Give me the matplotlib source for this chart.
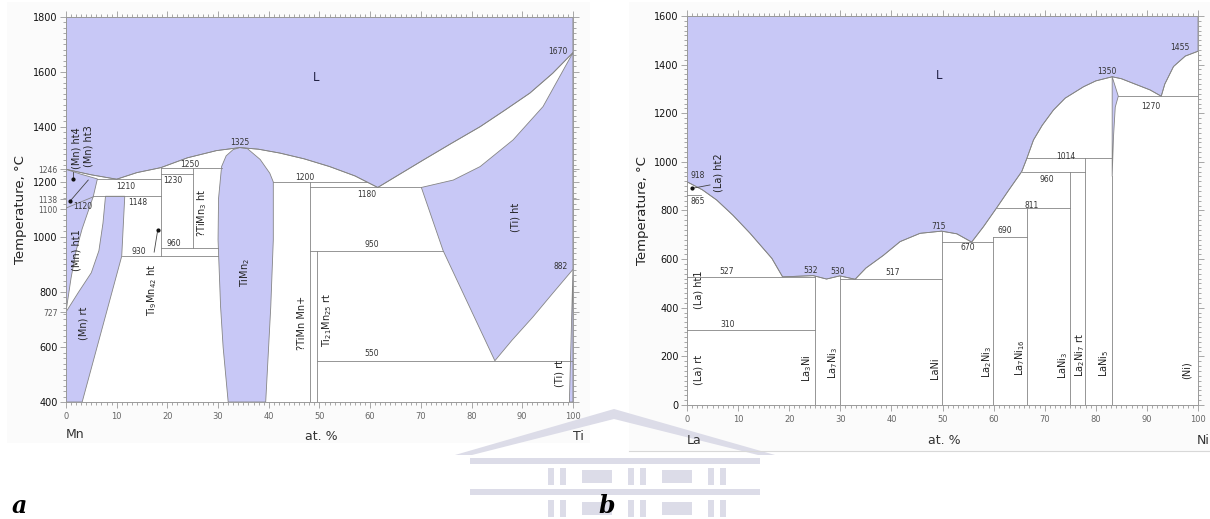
import numpy as np
import matplotlib.pyplot as plt
from matplotlib.patches import Rectangle, Polygon

plt.rcParams['font.family'] = ['DejaVu Sans']
plt.rcParams['mathtext.default'] = 'regular'

FILL = '#c8c8f6'
EDGE = '#858585'
WM = '#dcdce8'

# ---------------- Ti-Mn (x = at.% Ti) ----------------
timn_liq_x = [0, 5, 10, 14, 18.7, 24, 29.7, 34.3, 38, 42.2, 47, 52, 57, 61.5,
              66, 70.5, 76, 81.7, 86.5, 91.5, 96, 100]
timn_liq_t = [1246, 1226, 1210, 1234, 1252, 1288, 1314, 1325, 1319, 1305, 1284,
              1256, 1222, 1180, 1230, 1280, 1340, 1401, 1460, 1523, 1595, 1670]

mn_hi_x = [0, 3, 6.2, 5.4, 3.2, 2.0, 1.0, 0]
mn_hi_t = [1246, 1228, 1211, 1148, 1030, 950, 850, 727]

mn_rt_x = [0, 0, 2.5, 5.0, 6.5, 7.3, 7.8, 11.6, 11.0, 3.2]
mn_rt_t = [400, 727, 800, 870, 950, 1050, 1148, 1148, 930, 400]

timn2_x = [32.0, 31.0, 30.5, 30.0, 30.1, 30.7, 31.6, 33.0, 34.3, 35.8, 38.3,
           40.2, 40.9, 40.9, 40.4, 39.4]
timn2_t = [400, 600, 747, 990, 1140, 1256, 1295, 1318, 1325, 1321, 1282,
           1232, 1200, 990, 747, 400]

ti_ht_x = [70.1, 76.4, 81.7, 88.2, 94.1, 100, 100, 96, 92.1, 88, 84.6, 74.4]
ti_ht_t = [1180, 1207, 1256, 1353, 1474, 1670, 882, 795, 709, 625, 550, 950]

ti_rt_x = [100, 99.3, 100]
ti_rt_t = [882, 400, 400]

timn_iso_t = [1250, 1230, 1210, 1148, 960, 930, 1200, 1180, 950, 550]
timn_iso_x0 = [18.7, 18.7, 6.2, 5.4, 18.7, 11.0, 40.9, 48.1, 48.1, 49.6]
timn_iso_x1 = [30.7, 25.1, 18.7, 18.7, 30.0, 30.0, 59.4, 70.1, 74.4, 100]

timn_vert_x = [18.7, 25.1, 48.1, 49.6]
timn_vert_t0 = [930, 960, 400, 400]
timn_vert_t1 = [1250, 1250, 1200, 950]

timn_yticks = [400, 600, 727, 800, 1000, 1100, 1138, 1200, 1246, 1400, 1600, 1800]
timn_minor_labels = [727, 1100, 1138, 1246]

# ---------------- La-Ni (x = at.% Ni) ----------------
lani_liq_x = [0, 3, 5.8, 9, 12.3, 16.6, 18.7, 24.7, 27.3, 29.9, 32.9, 35, 38.4,
              41.7, 45.6, 49.8, 52.8, 55.7, 58, 60.6, 63, 65.5, 66.5, 67.8, 69.5,
              71.7, 74, 77.6, 80, 83.2, 85, 87.3, 90.6, 92.8, 93.5, 95.2, 97.5, 100]
lani_liq_t = [918, 885, 843, 780, 707, 603, 527, 532, 518, 531, 517, 563, 615,
              672, 706, 715, 704, 670, 733, 811, 885, 960, 1014, 1090, 1150,
              1213, 1262, 1309, 1333, 1350, 1342, 1323, 1296, 1270, 1320, 1392,
              1435, 1455]

lani5_x = [83.2, 84.4, 83.8, 83.45, 83.2]
lani5_t = [1350, 1270, 1225, 1100, 940]

lani_iso_t = [865, 527, 310, 517, 670, 690, 811, 960, 1014, 1270]
lani_iso_x0 = [0, 0, 0, 29.9, 49.8, 59.8, 60.6, 65.5, 66.5, 84.4]
lani_iso_x1 = [2.7, 25, 25, 49.8, 59.8, 66.5, 75, 77.8, 83.2, 100]

lani_vert_x = [25, 29.9, 49.8, 59.8, 66.5, 75, 77.8, 83.2]
lani_vert_t = [532, 531, 715, 690, 811, 960, 1014, 940]


def region(ax, xs, ts):
    ax.fill(xs, ts, facecolor=FILL, edgecolor=EDGE, linewidth=0.6, zorder=2)


def lines(ax, x0s, x1s, t0s, t1s):
    for a, b, c, d in zip(x0s, x1s, t0s, t1s):
        ax.plot([a, b], [c, d], color=EDGE, linewidth=0.6, zorder=3)


def num(ax, x, t, s):
    ax.text(x, t, s, fontsize=5.5, color='#333333', ha='center', va='center', zorder=5)


def phase(ax, x, t, s, size=7):
    ax.text(x, t, s, fontsize=size, color='#222222', rotation=90,
            ha='center', va='center', zorder=5)


def style(ax, ymin, ymax):
    ax.set_xlim(0, 100)
    ax.set_ylim(ymin, ymax)
    ax.set_xticks(range(0, 101, 10))
    ax.set_xticks(np.arange(0, 101, 1), minor=True)
    ax.set_yticks(np.arange(ymin, ymax + 1, 20), minor=True)
    ax.tick_params(which='both', direction='out', top=True, right=True,
                   color='#999999', width=0.6)
    ax.tick_params(which='major', length=4)
    ax.tick_params(which='minor', length=2)
    ax.tick_params(axis='x', labelsize=6, labelcolor='#666666', pad=3)
    ax.tick_params(axis='y', labelsize=7, labelcolor='#111111', pad=2)
    for sp in ax.spines.values():
        sp.set_color('#999999')
        sp.set_linewidth(0.7)
    ax.set_ylabel('Temperature, °C', fontsize=9.5, color='#222222', labelpad=4)


fig = plt.figure(figsize=(12.1, 5.19), dpi=100)

# faint page background: panel frames and the crest behind the captions
bg = fig.add_axes([0, 0, 1, 1], zorder=-5)
bg.set_xlim(0, 1210)
bg.set_ylim(519, 0)
bg.axis('off')
bg.add_patch(Rectangle((7, 2), 583, 441, facecolor='#fbfbfb', edgecolor='none'))
bg.add_patch(Rectangle((629, 2), 581, 449, facecolor='#fbfbfb', edgecolor='none'))
bg.plot([629, 1210], [451, 451], color='#d8d8d8', linewidth=0.8)
bg.add_patch(Polygon([[455, 455], [614, 409], [775, 455], [758, 455], [614, 419],
                      [472, 455]], closed=True, facecolor=WM, edgecolor='none'))
bg.add_patch(Rectangle((470, 458), 290, 6, facecolor=WM, edgecolor='none'))
bg.add_patch(Rectangle((470, 489), 290, 6, facecolor=WM, edgecolor='none'))
for row_y in (468, 500):
    for bx in (548, 628, 708):
        bg.add_patch(Rectangle((bx, row_y), 6, 17, facecolor=WM, edgecolor='none'))
        bg.add_patch(Rectangle((bx + 12, row_y), 6, 17, facecolor=WM, edgecolor='none'))
    for bx in (582, 662):
        bg.add_patch(Rectangle((bx, row_y + 2), 30, 13, facecolor=WM, edgecolor='none'))

# ===== a: Ti-Mn =====
ax1 = fig.add_axes([0.0545, 0.2254, 0.419, 0.742])
style(ax1, 400, 1800)
ax1.set_yticks(timn_yticks)
for lab, v in zip(ax1.get_yticklabels(), timn_yticks):
    if v in timn_minor_labels:
        lab.set_fontsize(5.5)
        lab.set_color('#555555')

lx = np.array(timn_liq_x)
lt = np.array(timn_liq_t)
region(ax1, np.concatenate([[0, 100], lx[::-1]]), np.concatenate([[1800, 1800], lt[::-1]]))
ax1.plot(lx, lt, color=EDGE, linewidth=0.6, zorder=3)
region(ax1, mn_hi_x, mn_hi_t)
region(ax1, mn_rt_x, mn_rt_t)
region(ax1, timn2_x, timn2_t)
region(ax1, ti_ht_x, ti_ht_t)
region(ax1, ti_rt_x, ti_rt_t)

lines(ax1, timn_iso_x0, timn_iso_x1, timn_iso_t, timn_iso_t)
lines(ax1, timn_vert_x, timn_vert_x, timn_vert_t0, timn_vert_t1)
lines(ax1, [0], [5.4], [1105], [1146])

# label pointers
ax1.plot([1.3, 1.3], [1238, 1211], color='#444444', linewidth=0.6, zorder=4)
ax1.plot([4.4, 0.8], [1207, 1130], color='#444444', linewidth=0.6, zorder=4)
ax1.plot([17.4, 18.1], [945, 1025], color='#444444', linewidth=0.6, zorder=4)
ax1.scatter([1.3, 0.8, 18.1], [1211, 1130, 1025], s=4, color='#111111', zorder=5)

ax1.text(49.3, 1578, 'L', fontsize=8.5, color='#222244', ha='center', va='center')
phase(ax1, 2.0, 1324, '(Mn) ht4')
phase(ax1, 4.5, 1331, '(Mn) ht3')
phase(ax1, 2.0, 953, '(Mn) ht1')
phase(ax1, 3.4, 687, '(Mn) rt')
phase(ax1, 17.0, 807, 'Ti$_9$Mn$_{42}$ ht')
phase(ax1, 26.8, 1087, '?TiMn$_3$ ht')
phase(ax1, 35.3, 869, 'TiMn$_2$')
phase(ax1, 46.5, 687, '?TiMn Mn+')
phase(ax1, 51.5, 698, 'Ti$_{21}$Mn$_{25}$ rt')
phase(ax1, 88.6, 1073, '(Ti) ht')
phase(ax1, 97.4, 505, '(Ti) rt')

for x, t, s in [(34.3, 1342, '1325'), (24.5, 1265, '1250'), (21.1, 1207, '1230'),
                (11.8, 1182, '1210'), (14.2, 1124, '1148'), (3.4, 1109, '1120'),
                (21.3, 978, '960'), (14.4, 949, '930'), (47.1, 1215, '1200'),
                (59.4, 1153, '1180'), (60.4, 971, '950'), (97.0, 1673, '1670'),
                (97.6, 891, '882'), (60.4, 575, '550')]:
    num(ax1, x, t, s)

# ===== b: La-Ni =====
ax2 = fig.add_axes([0.5678, 0.2197, 0.4223, 0.7495])
style(ax2, 0, 1600)
ax2.set_yticks(range(0, 1601, 200))

nx = np.array(lani_liq_x)
nt = np.array(lani_liq_t)
region(ax2, np.concatenate([[0, 100], nx[::-1]]), np.concatenate([[1600, 1600], nt[::-1]]))
ax2.plot(nx, nt, color=EDGE, linewidth=0.6, zorder=3)
region(ax2, lani5_x, lani5_t)

lines(ax2, lani_iso_x0, lani_iso_x1, lani_iso_t, lani_iso_t)
lines(ax2, lani_vert_x, lani_vert_x, [0] * len(lani_vert_x), lani_vert_t)

ax2.plot([1.0, 4.5], [891, 905], color='#444444', linewidth=0.6, zorder=4)
ax2.scatter([1.0], [891], s=4, color='#111111', zorder=5)

ax2.text(49.3, 1357, 'L', fontsize=8.5, color='#222244', ha='center', va='center')
phase(ax2, 6.1, 954, '(La) ht2')
phase(ax2, 2.2, 473, '(La) ht1')
phase(ax2, 2.2, 144, '(La) rt')
phase(ax2, 23.5, 152, 'La$_3$Ni')
phase(ax2, 28.6, 173, 'La$_7$Ni$_3$')
phase(ax2, 48.5, 152, 'LaNi')
phase(ax2, 58.7, 177, 'La$_2$Ni$_3$')
phase(ax2, 65.2, 193, 'La$_7$Ni$_{16}$')
phase(ax2, 73.6, 165, 'LaNi$_3$')
phase(ax2, 76.9, 206, 'La$_2$Ni$_7$ rt')
phase(ax2, 81.6, 173, 'LaNi$_5$')
phase(ax2, 97.8, 144, '(Ni)')

for x, t, s in [(2.0, 942, '918'), (2.0, 835, '865'), (7.8, 551, '527'),
                (24.1, 555, '532'), (29.5, 551, '530'), (40.3, 543, '517'),
                (8.0, 329, '310'), (49.3, 736, '715'), (55.0, 646, '670'),
                (62.2, 716, '690'), (67.5, 819, '811'), (70.5, 926, '960'),
                (74.2, 1020, '1014'), (82.2, 1370, '1350'), (90.8, 1226, '1270'),
                (96.5, 1469, '1455')]:
    num(ax2, x, t, s)

# element / composition captions under the axes
cap = dict(fontsize=9, color='#333333', va='center')
fig.text(66 / 1210, 1 - 435 / 519, 'Mn', ha='left', **cap)
fig.text(321 / 1210, 1 - 437 / 519, 'at. %', ha='center', **cap)
fig.text(573 / 1210, 1 - 437 / 519, 'Ti', ha='left', **cap)
fig.text(687 / 1210, 1 - 440 / 519, 'La', ha='left', **cap)
fig.text(944 / 1210, 1 - 440 / 519, 'at. %', ha='center', **cap)
fig.text(1197 / 1210, 1 - 440 / 519, 'Ni', ha='left', **cap)

panel = dict(fontsize=17, fontweight='bold', fontstyle='italic',
             family='DejaVu Serif', va='center', ha='left')
fig.text(12 / 1210, 1 - 506 / 519, 'a', **panel)
fig.text(598 / 1210, 1 - 506 / 519, 'b', **panel)

fig.savefig('out.png', dpi=100)
